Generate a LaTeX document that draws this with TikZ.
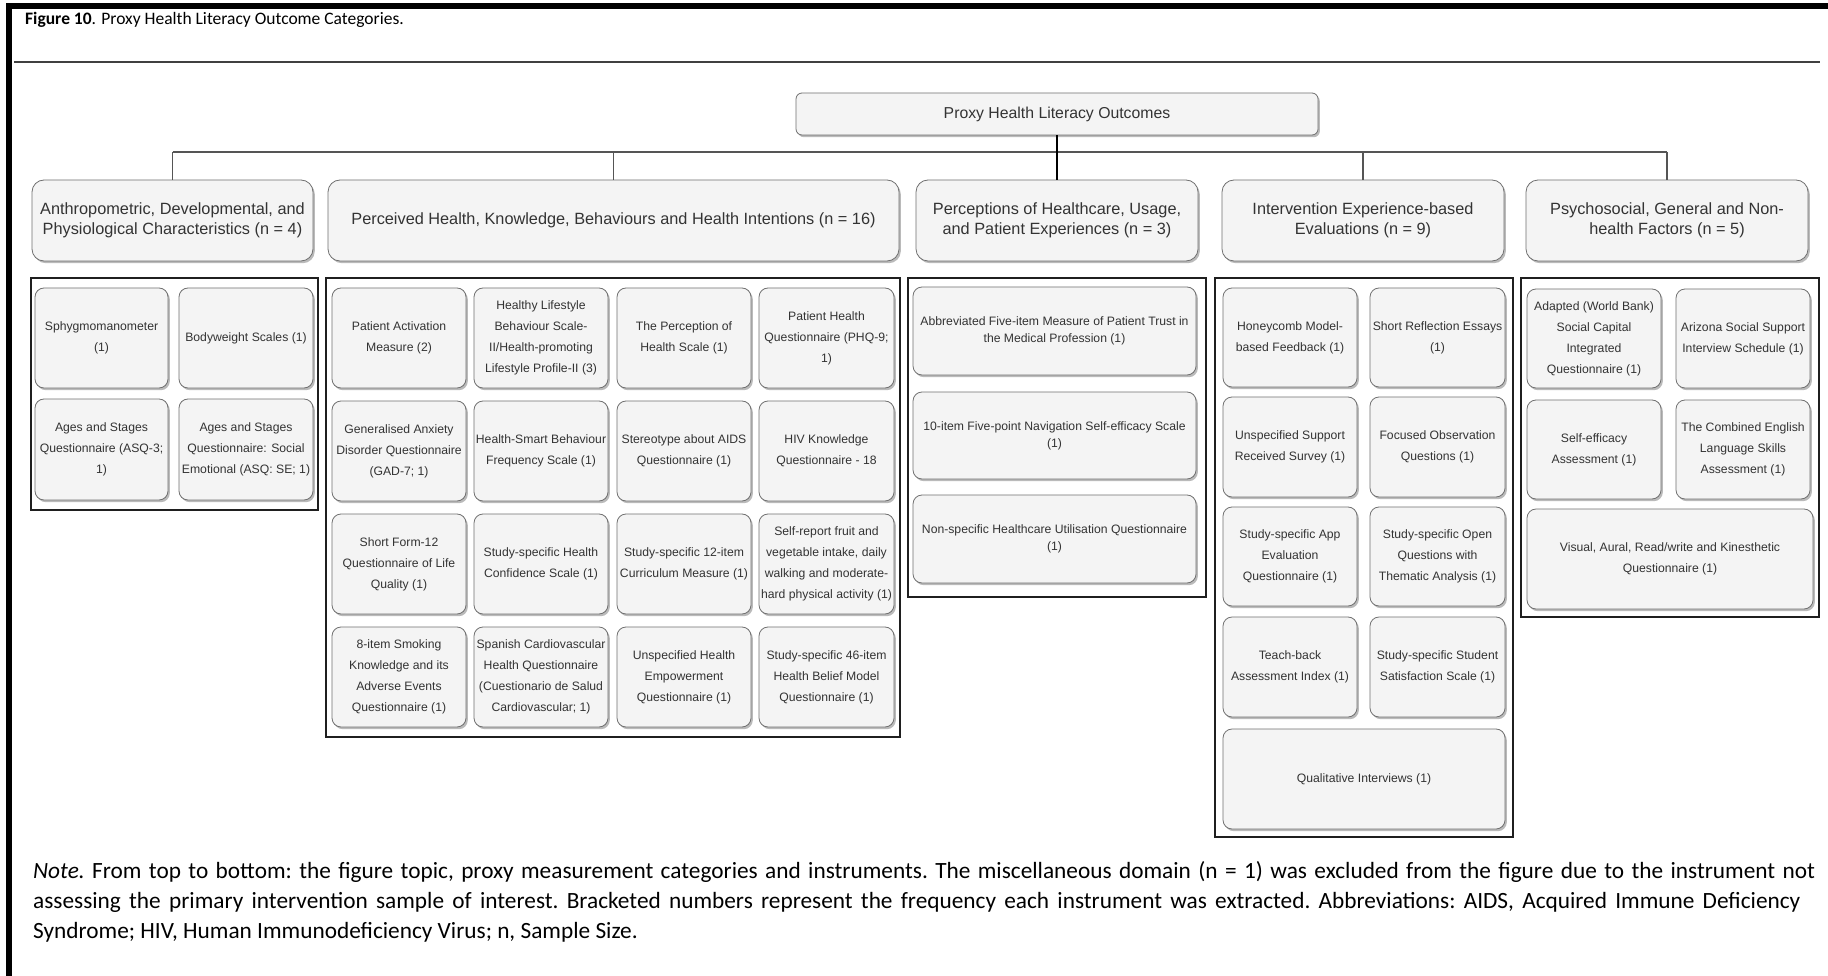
\documentclass[tikz,border=0pt]{standalone}
\usepackage{fontspec}
\setmainfont{Liberation Sans}
\newfontfamily\calibri{Carlito}
\usetikzlibrary{shadows}
\definecolor{boxfill}{HTML}{F4F4F4}
\definecolor{boxline}{HTML}{707070}
\definecolor{txt}{HTML}{333333}
\definecolor{busline}{HTML}{555555}
\tikzset{
 base/.style={draw=boxline, fill=boxfill, line width=0.8pt, text=txt, align=center, inner sep=1pt,
   drop shadow={shadow xshift=1.8pt, shadow yshift=-2.2pt, fill=black!45, opacity=0.6}},
 ibox/.style={base, rounded corners=9pt, font=\fontsize{12.2}{21}\selectfont},
 iboxt/.style={base, rounded corners=9pt, font=\fontsize{12.2}{16.7}\selectfont},
 catbox/.style={base, rounded corners=12pt, font=\fontsize{16.3}{20.5}\selectfont},
 rootbox/.style={base, rounded corners=6pt, font=\fontsize{15.8}{19}\selectfont},
 cont/.style={draw=black!88, line width=2pt, inner sep=0pt},
 conn/.style={draw=busline, line width=1.3pt},
 mainconn/.style={draw=black, line width=2.6pt},
 caption/.style={anchor=base west, inner sep=0pt, text=black},
 notefont/.style={font=\calibri\fontsize{23.3}{30}\selectfont\frenchspacing},
}
\newcommand{\bx}[6]{\node[#1, minimum width=#4pt, minimum height=#5pt] (#2) at (#3) {#6};}
\begin{document}
\begin{tikzpicture}[x=1pt,y=-1pt]
\useasboundingbox (0,0) rectangle (1828,976);
\fill[white] (0,0) rectangle (1828,976);
% frame
\fill[black] (6,3) rectangle (12,976);
\fill[black] (6,3) rectangle (1828,9);
\draw[line width=1.6pt, black!75] (14,62) -- (1820,62);
% title
\node[caption, font=\calibri\fontsize{17.5}{20}\selectfont] (title) at (25,25) {\textbf{Figure 10}. Proxy Health Literacy Outcome Categories.};
% containers
\node[cont, minimum width=287pt, minimum height=232pt] (c1) at (174.5,394) {};
\node[cont, minimum width=574pt, minimum height=459pt] (c2) at (613,507.5) {};
\node[cont, minimum width=298pt, minimum height=319pt] (c3) at (1057,437.5) {};
\node[cont, minimum width=298pt, minimum height=559pt] (c4) at (1364,557.5) {};
\node[cont, minimum width=298pt, minimum height=339pt] (c5) at (1670,447.5) {};
% root and categories
\bx{rootbox}{root}{1057,114}{522}{42}{Proxy Health Literacy Outcomes}
\bx{catbox}{cat1}{172.5,220.5}{281}{81}{Anthropometric, Developmental, and\\Physiological Characteristics (n = 4)}
\bx{catbox}{cat2}{613.5,220.5}{571}{81}{Perceived Health, Knowledge, Behaviours and Health Intentions (n = 16)}
\bx{catbox}{cat3}{1057,220.5}{282}{81}{Perceptions of Healthcare, Usage,\\and Patient Experiences (n = 3)}
\bx{catbox}{cat4}{1363,220.5}{282}{81}{Intervention Experience-based\\Evaluations (n = 9)}
\bx{catbox}{cat5}{1667,220.5}{282}{81}{Psychosocial, General and Non-\\health Factors (n = 5)}
% connectors
\coordinate (bus) at (1057,152);
\draw[conn] (cat1.north |- bus) -- (cat5.north |- bus);
\foreach \c in {cat1,cat2,cat4,cat5} {\draw[conn] (\c.north) -- (\c.north |- bus);}
\draw[mainconn] (root.south) -- (cat3.north);
% C1
\bx{ibox}{a1}{101.5,338}{133}{100}{Sphygmomanometer\\(1)}
\bx{ibox}{a2}{246,338}{134}{100}{Bodyweight Scales (1)}
\bx{ibox}{a3}{101.5,449.5}{133}{101}{Ages and Stages\\Questionnaire (ASQ-3;\\1)}
\bx{ibox}{a4}{246,449.5}{134}{101}{Ages and Stages\\Questionnaire: Social\\Emotional (ASQ: SE; 1)}
% C2
\bx{ibox}{b1}{399,338}{134}{100}{Patient Activation\\Measure (2)}
\bx{ibox}{b2}{541,338}{134}{100}{Healthy Lifestyle\\Behaviour Scale-\\II/Health-promoting\\Lifestyle Profile-II (3)}
\bx{ibox}{b3}{684,338}{134}{100}{The Perception of\\Health Scale (1)}
\bx{ibox}{b4}{826.5,338}{135}{100}{Patient Health\\Questionnaire (PHQ-9;\\1)}
\bx{ibox}{b5}{399,451}{134}{100}{Generalised Anxiety\\Disorder Questionnaire\\(GAD-7; 1)}
\bx{ibox}{b6}{541,451}{134}{100}{Health-Smart Behaviour\\Frequency Scale (1)}
\bx{ibox}{b7}{684,451}{134}{100}{Stereotype about AIDS\\Questionnaire (1)}
\bx{ibox}{b8}{826.5,451}{135}{100}{HIV Knowledge\\Questionnaire - 18}
\bx{ibox}{b9}{399,564}{134}{100}{Short Form-12\\Questionnaire of Life\\Quality (1)}
\bx{ibox}{b10}{541,564}{134}{100}{Study-specific Health\\Confidence Scale (1)}
\bx{ibox}{b11}{684,564}{134}{100}{Study-specific 12-item\\Curriculum Measure (1)}
\bx{ibox}{b12}{826.5,564}{135}{100}{Self-report fruit and\\vegetable intake, daily\\walking and moderate-\\hard physical activity (1)}
\bx{ibox}{b13}{399,677}{134}{100}{8-item Smoking\\Knowledge and its\\Adverse Events\\Questionnaire (1)}
\bx{ibox}{b14}{541,677}{134}{100}{Spanish Cardiovascular\\Health Questionnaire\\(Cuestionario de Salud\\Cardiovascular; 1)}
\bx{ibox}{b15}{684,677}{134}{100}{Unspecified Health\\Empowerment\\Questionnaire (1)}
\bx{ibox}{b16}{826.5,677}{135}{100}{Study-specific 46-item\\Health Belief Model\\Questionnaire (1)}
% C3
\bx{iboxt}{d1}{1054.5,331}{283}{88}{Abbreviated Five-item Measure of Patient Trust in\\the Medical Profession (1)}
\bx{iboxt}{d2}{1054.5,435.5}{283}{87}{10-item Five-point Navigation Self-efficacy Scale\\(1)}
\bx{iboxt}{d3}{1054.5,539}{283}{88}{Non-specific Healthcare Utilisation Questionnaire\\(1)}
% C4
\bx{ibox}{e1}{1290,337.5}{134}{99}{Honeycomb Model-\\based Feedback (1)}
\bx{ibox}{e2}{1437.5,337.5}{135}{99}{Short Reflection Essays\\(1)}
\bx{ibox}{e3}{1290,447}{134}{100}{Unspecified Support\\Received Survey (1)}
\bx{ibox}{e4}{1437.5,447}{135}{100}{Focused Observation\\Questions (1)}
\bx{ibox}{e5}{1290,556.5}{134}{99}{Study-specific App\\Evaluation\\Questionnaire (1)}
\bx{ibox}{e6}{1437.5,556.5}{135}{99}{Study-specific Open\\Questions with\\Thematic Analysis (1)}
\bx{ibox}{e7}{1290,667}{134}{100}{Teach-back\\Assessment Index (1)}
\bx{ibox}{e8}{1437.5,667}{135}{100}{Study-specific Student\\Satisfaction Scale (1)}
\bx{ibox}{e9}{1364,779}{282}{100}{Qualitative Interviews (1)}
% C5
\bx{ibox}{f1}{1594,338.5}{134}{99}{Adapted (World Bank)\\Social Capital\\Integrated\\Questionnaire (1)}
\bx{ibox}{f2}{1743,338.5}{134}{99}{Arizona Social Support\\Interview Schedule (1)}
\bx{ibox}{f3}{1594,449.5}{134}{99}{Self-efficacy\\Assessment (1)}
\bx{ibox}{f4}{1743,449.5}{134}{99}{The Combined English\\Language Skills\\Assessment (1)}
\bx{ibox}{f5}{1670,559}{286}{100}{Visual, Aural, Read/write and Kinesthetic\\Questionnaire (1)}
% note
\node[caption, notefont] (note1) at (33,878) {\makebox[1782pt][s]{\textit{Note.} From top to bottom: the figure topic, proxy measurement categories and instruments. The miscellaneous domain (n = 1) was excluded from the figure due to the instrument not}};
\node[caption, notefont] (note2) at (33,908) {\makebox[1767pt][s]{assessing the primary intervention sample of interest. Bracketed numbers represent the frequency each instrument was extracted. Abbreviations: AIDS, Acquired Immune Deficiency}};
\node[caption, notefont] (note3) at (33,938) {Syndrome; HIV, Human Immunodeficiency Virus; n, Sample Size.};
\end{tikzpicture}
\end{document}
